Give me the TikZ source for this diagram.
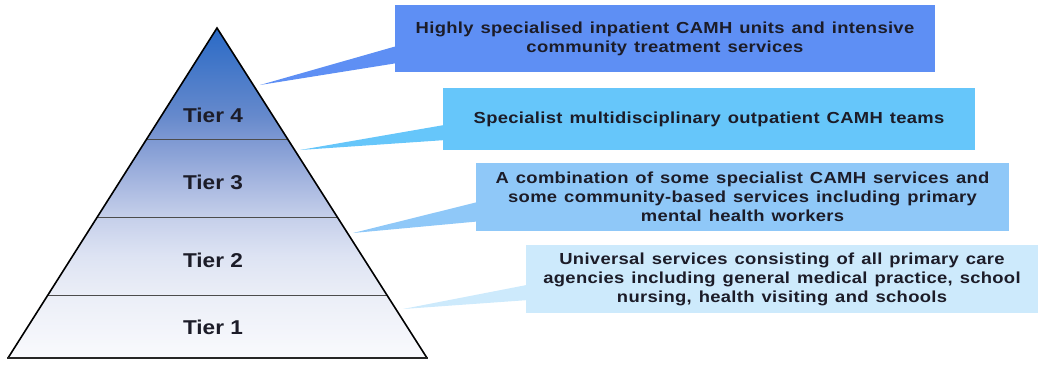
\documentclass[tikz,border=0pt]{standalone}
\usepackage{fontspec}
\setmainfont{Liberation Sans}[FakeStretch=1.13]
\newfontfamily\boxfont{Liberation Sans}[FakeStretch=1.15, LetterSpace=2]
\newcommand\calloutfont{\boxfont\bfseries\fontsize{16}{19}\selectfont\spaceskip=7pt plus 1pt minus 1pt\relax}
\usetikzlibrary{calc}
\definecolor{boxA}{HTML}{5E8FF4}
\definecolor{boxB}{HTML}{66C6FA}
\definecolor{boxC}{HTML}{8FC8F8}
\definecolor{boxD}{HTML}{CDEAFC}
\definecolor{txt}{HTML}{1C1C28}
\definecolor{pA}{HTML}{F9FAFD}
\definecolor{pB}{HTML}{EBEEF7}
\definecolor{pC}{HTML}{DDE3F3}
\definecolor{pD}{HTML}{C5CFEA}
\definecolor{pE}{HTML}{A4B5DF}
\definecolor{pF}{HTML}{7D98D2}
\definecolor{pG}{HTML}{6589CC}
\definecolor{pH}{HTML}{2A6AC6}
\pgfdeclareverticalshading{pyrshade}{100bp}{%
  color(0bp)=(pA);
  color(25bp)=(pA);
  color(34.5bp)=(pB);
  color(40.6bp)=(pC);
  color(46.4bp)=(pD);
  color(52bp)=(pE);
  color(58.2bp)=(pF);
  color(61.8bp)=(pG);
  color(75bp)=(pH);
  color(100bp)=(pH)}
\tikzset{
  x=1pt, y=-1pt,
  callout/.style={rectangle, inner sep=0pt, align=center, text=txt, font=\calloutfont},
  tierlabel/.style={text=txt, font=\bfseries\fontsize{20}{24}\selectfont, inner sep=0pt},
  divider/.style={draw=black!70, line width=0.8pt},
}
\begin{document}
\begin{tikzpicture}
\useasboundingbox (0,0) rectangle (1038,365);

% pyramid
\coordinate (apex) at (217,28);
\coordinate (bl) at (8,358);
\coordinate (br) at (427,358);
\shade[shading=pyrshade] (apex) -- (br) -- (bl) -- cycle;

% dividers
\foreach \yy/\nm in {139/d4, 217/d3, 295/d2}{
  \coordinate (\nm L) at ($(apex)!{(\yy-28)/330}!(bl)$);
  \coordinate (\nm R) at ($(apex)!{(\yy-28)/330}!(br)$);
  \draw[divider] (\nm L) -- (\nm R);
}
\draw[line width=1.6pt, line join=miter] (bl) -- (apex) -- (br);
\draw[line width=2.4pt, black!85] ($(bl)+(-1,0)$) -- ($(br)+(1,0)$);

% tier labels
\node[tierlabel] (t4) at (213,115) {Tier 4};
\node[tierlabel] (t3) at (213,182) {Tier 3};
\node[tierlabel] (t2) at (213,260) {Tier 2};
\node[tierlabel] (t1) at (213,327) {Tier 1};

% callout boxes
\node[callout, fill=boxA, minimum width=540pt, minimum height=67pt] (b1) at (665,38.5)
  {Highly specialised inpatient CAMH units and intensive\\community treatment services};
\node[callout, fill=boxB, minimum width=532pt, minimum height=62pt] (b2) at (709,119)
  {\raisebox{3pt}{Specialist multidisciplinary outpatient CAMH teams}};
\node[callout, fill=boxC, minimum width=533pt, minimum height=68pt] (b3) at (742.5,197)
  {A combination of some specialist CAMH services and\\some community-based services including primary\\mental health workers};
\node[callout, fill=boxD, minimum width=512pt, minimum height=68pt] (b4) at (782,279)
  {Universal services consisting of all primary care\\agencies including general medical practice, school\\nursing, health visiting and schools};

% wedges (callout pointers)
\coordinate (w1) at (260,85);
\coordinate (w2) at (300,150);
\coordinate (w3) at (353,233);
\coordinate (w4) at (403,309);
\fill[boxA] (w1) -- ($(b1.north west)!0.62!(b1.south west)$) -- ($(b1.north west)!0.87!(b1.south west)$) -- cycle;
\fill[boxB] (w2) -- ($(b2.north west)!0.60!(b2.south west)$) -- ($(b2.north west)!0.84!(b2.south west)$) -- cycle;
\fill[boxC] (w3) -- ($(b3.north west)!0.58!(b3.south west)$) -- ($(b3.north west)!0.86!(b3.south west)$) -- cycle;
\fill[boxD] (w4) -- ($(b4.north west)!0.59!(b4.south west)$) -- ($(b4.north west)!0.81!(b4.south west)$) -- cycle;
\end{tikzpicture}
\end{document}
